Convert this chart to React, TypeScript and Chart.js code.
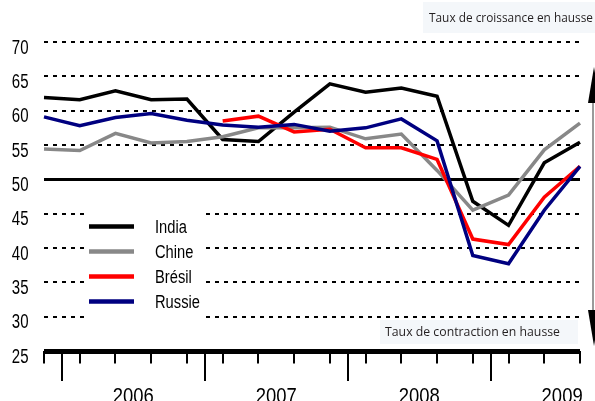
import React, { useEffect, useRef } from "react";
import { Chart, registerables } from "chart.js";

Chart.register(...registerables);

// ---- data ----
const quarters = [
  "T4 2005", "T1 2006", "T2 2006", "T3 2006", "T4 2006",
  "T1 2007", "T2 2007", "T3 2007", "T4 2007",
  "T1 2008", "T2 2008", "T3 2008", "T4 2008",
  "T1 2009", "T2 2009", "T3 2009",
];
const india = [61.9, 61.6, 62.9, 61.6, 61.7, 55.8, 55.5, 59.8, 63.9, 62.7, 63.3, 62.1, 46.8, 43.3, 52.4, 55.4];
const chine = [54.4, 54.2, 56.7, 55.3, 55.5, 56.2, 57.5, 57.5, 57.6, 55.9, 56.6, 51.3, 45.5, 47.7, 54.3, 58.2];
const bresil = [null, null, null, null, null, 58.5, 59.2, 56.9, 57.3, 54.6, 54.6, 52.9, 41.3, 40.5, 47.4, 51.9];
const russie = [59.1, 57.8, 59.0, 59.6, 58.6, 57.9, 57.6, 58.0, 57.0, 57.5, 58.8, 55.6, 38.9, 37.7, 45.5, 51.9];
const seriesNames = ["India", "Chine", "Brésil", "Russie"];
const seriesColors = ["#000000", "#888888", "#ff0000", "#000080"];
const yTicks = [25, 30, 35, 40, 45, 50, 55, 60, 65, 70];
const yearLabels = ["2006", "2007", "2008", "2009"];
const topNote = "Taux de croissance en hausse";
const bottomNote = "Taux de contraction en hausse";

const SANS = "'Liberation Sans', Arial, sans-serif";
const NOTE_FONT = "'Open Sans', 'Noto Sans', sans-serif";

function drawText(
  ctx: CanvasRenderingContext2D,
  text: string,
  x: number,
  y: number,
  font: string,
  align: CanvasTextAlign,
  sx: number,
  sy: number
) {
  ctx.save();
  ctx.translate(x, y);
  ctx.scale(sx, sy);
  ctx.font = font;
  ctx.textAlign = align;
  ctx.textBaseline = "alphabetic";
  ctx.fillText(text, 0, 0);
  ctx.restore();
}

function drawFitted(ctx: CanvasRenderingContext2D, text: string, x: number, y: number, font: string, width: number) {
  ctx.save();
  ctx.font = font;
  const w = ctx.measureText(text).width || width;
  ctx.translate(x, y);
  ctx.scale(width / w, 1);
  ctx.textAlign = "left";
  ctx.textBaseline = "alphabetic";
  ctx.fillText(text, 0, 0);
  ctx.restore();
}

const decor = {
  id: "decor",
  afterDraw(chart: any) {
    const { ctx, scales } = chart;
    const xs = scales.x;
    const ys = scales.y;
    const base = ys.getPixelForValue(25);
    ctx.save();

    // y labels (from the scale's ticks)
    ctx.fillStyle = "#000";
    ys.ticks.forEach((t: any) => {
      const y = ys.getPixelForValue(t.value);
      drawText(ctx, String(t.value), 28.5, y + 11.5, `19px ${SANS}`, "right", 0.79, 1.1);
    });

    // quarter ticks
    ctx.strokeStyle = "#000";
    ctx.lineWidth = 2;
    ctx.lineCap = "butt";
    for (let i = 0; i < quarters.length; i++) {
      const x = Math.round(xs.getPixelForValue(i));
      ctx.beginPath();
      ctx.moveTo(x, base);
      ctx.lineTo(x, base + 12.5);
      ctx.stroke();
    }
    // year boundaries and labels
    const starts: number[] = [];
    for (let i = 0; i < quarters.length - 1; i++) {
      if (quarters[i].slice(-4) !== quarters[i + 1].slice(-4)) starts.push(i + 0.5);
    }
    ctx.fillStyle = "#000";
    starts.forEach((b, k) => {
      const x = Math.round(xs.getPixelForValue(b));
      ctx.beginPath();
      ctx.moveTo(x, base);
      ctx.lineTo(x, base + 30);
      ctx.stroke();
      const cx = xs.getPixelForValue(b + 2);
      if (yearLabels[k]) drawText(ctx, yearLabels[k], cx, 403, `22px ${SANS}`, "center", 0.84, 1.02);
    });

    // legend
    ctx.fillStyle = "#ffffff";
    ctx.fillRect(84, 199, 122, 121);
    ctx.lineWidth = 4.5;
    seriesNames.forEach((name, k) => {
      const y = 226.5 + k * 25;
      ctx.strokeStyle = seriesColors[k];
      ctx.beginPath();
      ctx.moveTo(89, y);
      ctx.lineTo(134, y);
      ctx.stroke();
      ctx.fillStyle = "#000";
      drawText(ctx, name, 155, y + 6, `17.5px ${SANS}`, "left", 0.84, 1.0);
    });

    // notes
    ctx.fillStyle = "#f4f7fa";
    ctx.fillRect(423, 2, 172, 31);
    ctx.fillRect(380, 320, 198, 24);
    ctx.fillStyle = "#231f20";
    drawFitted(ctx, topNote, 429, 22, `12.5px ${NOTE_FONT}`, 164);
    drawFitted(ctx, bottomNote, 385, 336, `12.5px ${NOTE_FONT}`, 175);

    // arrow
    const ax = 594;
    ctx.strokeStyle = "#9a9a9a";
    ctx.lineWidth = 2;
    ctx.beginPath();
    ctx.moveTo(ax - 1, 95);
    ctx.lineTo(ax - 1, 320);
    ctx.stroke();
    ctx.fillStyle = "#000";
    ctx.beginPath();
    ctx.moveTo(ax, 67);
    ctx.lineTo(ax - 6, 103);
    ctx.lineTo(ax + 6, 103);
    ctx.closePath();
    ctx.fill();
    ctx.beginPath();
    ctx.moveTo(ax, 346);
    ctx.lineTo(ax - 6, 310);
    ctx.lineTo(ax + 6, 310);
    ctx.closePath();
    ctx.fill();

    ctx.restore();
  },
};

export default function App() {
  const ref = useRef<HTMLCanvasElement | null>(null);
  useEffect(() => {
    if (!ref.current) return;
    const series = [india, chine, bresil, russie];
    const chart = new Chart(ref.current, {
      type: "line",
      data: {
        labels: quarters,
        datasets: series.map((d, k) => ({
          label: seriesNames[k],
          data: d as any,
          borderColor: seriesColors[k],
          backgroundColor: seriesColors[k],
          borderWidth: 3.5,
          pointRadius: 0,
          tension: 0,
          spanGaps: false,
          borderJoinStyle: "miter" as const,
          order: 4 - k,
        })),
      },
      options: {
        animation: false,
        responsive: true,
        maintainAspectRatio: false,
        layout: { padding: { top: 42, bottom: 50, left: 0, right: 15 } },
        plugins: { legend: { display: false }, tooltip: { enabled: false } },
        scales: {
          x: { type: "category", display: false, offset: false },
          y: {
            min: 25,
            max: 70,
            afterBuildTicks: (s: any) => {
              s.ticks = yTicks.map((v) => ({ value: v }));
            },
            afterFit: (s: any) => {
              s.width = 44;
            },
            grid: {
              color: "#000",
              drawTicks: false,
              lineWidth: (c: any) => (c.tick && c.tick.value === 25 ? 5 : c.tick && c.tick.value === 50 ? 3 : 2),
            },
            border: {
              display: false,
              dash: (c: any) => (c.tick && (c.tick.value === 25 || c.tick.value === 50) ? [] : [4, 5]),
            },
            ticks: { display: false },
          },
        },
      },
      plugins: [decor],
    });
    return () => chart.destroy();
  }, []);
  return (
    <div style={{ position: "fixed", left: 0, top: 0, width: 595, height: 401, background: "#fff" }}>
      <canvas ref={ref} />
    </div>
  );
}
